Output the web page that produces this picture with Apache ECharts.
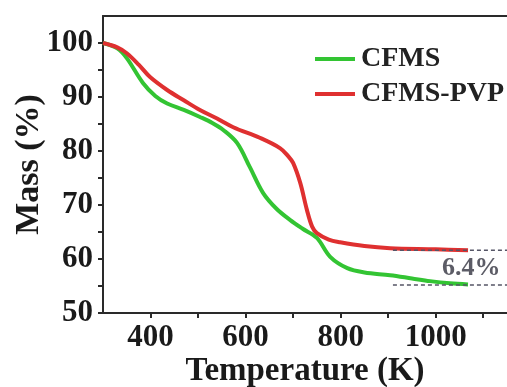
<!DOCTYPE html>
<html>
<head>
<meta charset="utf-8">
<script src="https://cdn.jsdelivr.net/npm/echarts@6/dist/echarts.min.js"></script>
<style>html,body{margin:0;padding:0;background:#fff}#c{width:507px;height:387px}</style>
</head>
<body>
<div id="c"></div>
<script>
// CFMS (green) — temperature (K) and mass (%)
var cfmsT = [300, 330, 350, 384, 410, 435, 470, 504, 530, 553, 582, 609, 637, 665, 694, 720, 750, 778, 814, 850, 904, 950, 988, 1030, 1068];
var cfmsM = [100, 99.0, 97.2, 92.6, 90.2, 88.8, 87.6, 86.3, 85.2, 83.9, 81.5, 77.0, 72.2, 69.3, 67.2, 65.6, 63.9, 60.4, 58.3, 57.5, 57.0, 56.4, 55.9, 55.5, 55.3];
// CFMS-PVP (red)
var pvpT = [300, 330, 350, 375, 399, 435, 470, 504, 540, 574, 631, 673, 690, 700, 715, 729, 740, 750, 775, 799, 850, 904, 1000, 1068];
var pvpM = [100, 99.2, 98.1, 96.0, 93.7, 91.3, 89.4, 87.6, 86.0, 84.4, 82.4, 80.5, 79.0, 77.8, 74.1, 69.1, 66.0, 64.8, 63.6, 63.1, 62.4, 62.0, 61.8, 61.6];
// reference levels and annotation
var levelT = [910, 1150];
var upperLevel = 61.6;
var lowerLevel = 55.2;
var annotText = '6.4%';
var annotPos = [1075, 58.3];
// axis ticks
var xLabels = [400, 600, 800, 1000];
var xTicks = [400, 500, 600, 700, 800, 900, 1000, 1100];
var yLabels = [50, 60, 70, 80, 90, 100];
var yTicks = [50, 55, 60, 65, 70, 75, 80, 85, 90, 95, 100];

function zip(a, b) { return a.map(function (v, i) { return [v, b[i]]; }); }

var font = 'Liberation Serif';
var axisColor = '#2a2a2a';
var chart = echarts.init(document.getElementById('c'));
chart.setOption({
  animation: false,
  grid: { left: 103, right: 0, top: 16, bottom: 74, containLabel: false, outerBoundsMode: 'none' },
  legend: {
    orient: 'vertical', left: 310, top: 40, itemWidth: 40, itemHeight: 4, itemGap: 7,
    icon: 'rect',
    textStyle: { fontFamily: font, fontWeight: 'bold', fontSize: 28, lineHeight: 28, color: '#222', padding: [0, 0, 0, 1] },
    data: ['CFMS', 'CFMS-PVP']
  },
  xAxis: [{
    type: 'value', min: 300, max: 1150,
    name: 'Temperature (K)', nameLocation: 'middle', nameGap: 42, nameMoveOverlap: false,
    nameTextStyle: { fontFamily: font, fontWeight: 'bold', fontSize: 33, color: '#1a1a1a' },
    axisLine: { show: true, lineStyle: { color: axisColor, width: 2 } },
    axisTick: { show: true, inside: false, length: 5, customValues: xTicks, lineStyle: { color: axisColor, width: 2 } },
    axisLabel: { customValues: xLabels, formatter: function (v) { return String(v); }, margin: 9, fontFamily: font, fontWeight: 'bold', fontSize: 31, color: '#1a1a1a' },
    splitLine: { show: false }
  }, {
    type: 'value', min: 300, max: 1150, position: 'top',
    axisLine: { show: true, lineStyle: { color: axisColor, width: 2 } },
    axisTick: { show: false }, axisLabel: { show: false }, splitLine: { show: false }
  }],
  yAxis: {
    type: 'value', min: 50, max: 105,
    name: 'Mass (%)', nameLocation: 'middle', nameGap: 57, nameMoveOverlap: false,
    nameTextStyle: { fontFamily: font, fontWeight: 'bold', fontSize: 34, color: '#1a1a1a' },
    axisLine: { show: true, lineStyle: { color: axisColor, width: 2 } },
    axisTick: { show: true, inside: false, length: 5, customValues: yTicks, lineStyle: { color: axisColor, width: 2 } },
    axisLabel: { customValues: yLabels, formatter: function (v) { return String(v); }, margin: 10, fontFamily: font, fontWeight: 'bold', fontSize: 31, color: '#1a1a1a' },
    splitLine: { show: false }
  },
  series: [
    { name: 'CFMS', type: 'line', data: zip(cfmsT, cfmsM), smooth: 0.35, showSymbol: false, symbol: 'none',
      lineStyle: { color: '#33c433', width: 4 }, itemStyle: { color: '#33c433' }, z: 3 },
    { name: 'CFMS-PVP', type: 'line', data: zip(pvpT, pvpM), smooth: 0.35, showSymbol: false, symbol: 'none',
      lineStyle: { color: '#df3030', width: 4 }, itemStyle: { color: '#df3030' }, z: 3 },
    { name: 'upper', type: 'line', data: zip(levelT, [upperLevel, upperLevel]), symbol: 'none',
      lineStyle: { color: '#555566', width: 1.5, type: [4, 3] }, z: 4 },
    { name: 'lower', type: 'line', data: zip(levelT, [lowerLevel, lowerLevel]), symbol: 'none',
      lineStyle: { color: '#555566', width: 1.5, type: [4, 3] }, z: 4 },
    { name: 'annot', type: 'scatter', data: [annotPos], symbolSize: 0,
      label: { show: true, position: 'inside', formatter: annotText, fontFamily: font, fontWeight: 'bold', fontSize: 26, color: '#333340' } }
  ]
});
</script>
</body>
</html>
